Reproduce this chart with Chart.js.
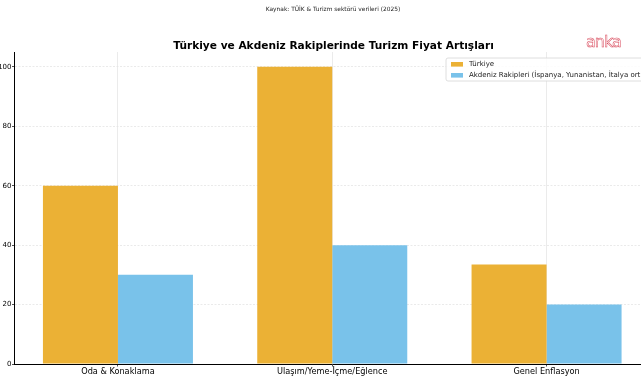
<!DOCTYPE html>
<html lang="tr">
<head>
<meta charset="utf-8">
<script src="https://cdn.jsdelivr.net/npm/chart.js@4"></script>
<style>
    html, body { margin: 0; padding: 0; background: #fff; overflow: hidden; width: 641px; height: 380px; }
    #kutu { position: relative; width: 641px; height: 380px; overflow: hidden; }
    canvas { position: absolute; left: 0; top: 0; }
    #kaynak { position: absolute; top: 6px; left: 0; width: 666px; text-align: center; font: 5.9px "DejaVu Sans"; color: #222; }
    #baslik { position: absolute; top: 39px; left: 0; width: 667px; text-align: center; font: bold 10.6px "DejaVu Sans"; color: #000; }
    #logo { position: absolute; left: 586px; top: 32px; font: 16px "DejaVu Sans"; color: #fff; -webkit-text-stroke: 0.5px #d8485a; letter-spacing: -1px; }
</style>
</head>
<body>
<div id="kutu">
    <canvas id="grafik" width="666" height="380"></canvas>
    <div id="kaynak">Kaynak: TÜİK &amp; Turizm sektörü verileri (2025)</div>
    <div id="baslik">Türkiye ve Akdeniz Rakiplerinde Turizm Fiyat Artışları</div>
    <div id="logo">anka</div>
</div>
<script>
// Veriler
const kategoriler = ["Oda & Konaklama", "Ulaşım/Yeme-İçme/Eğlence", "Genel Enflasyon"];
const turkiye = [60, 100, 33.5];
const akdeniz = [30, 40, 20];
const yTikleri = [0, 20, 40, 60, 80, 100];
const seriAdlari = ["Türkiye", "Akdeniz Rakipleri (İspanya, Yunanistan, İtalya ort.)"];

const turuncu = "#EBB135";
const mavi = "#79C2EA";

// Lejantı grafik alanının içine, sağ üste çizer
const lejantEklentisi = {
    id: "lejant",
    afterDraw(chart) {
        const ctx = chart.ctx;
        const x0 = 446, y0 = 58;
        ctx.save();
        ctx.font = "7px 'DejaVu Sans'";
        const genislik = ctx.measureText(seriAdlari[1]).width + 32;
        ctx.fillStyle = "rgba(255,255,255,0.85)";
        ctx.strokeStyle = "#d6d6d6";
        ctx.lineWidth = 0.8;
        ctx.beginPath();
        ctx.roundRect(x0, y0, genislik, 23, 2);
        ctx.fill();
        ctx.stroke();
        chart.data.datasets.forEach((ds, i) => {
            const y = y0 + 6.3 + i * 11;
            ctx.fillStyle = ds.backgroundColor;
            ctx.fillRect(x0 + 5, y - 2.3, 12, 4.6);
            ctx.fillStyle = "#222";
            ctx.textBaseline = "middle";
            ctx.fillText(ds.label, x0 + 23, y);
        });
        ctx.restore();
    }
};

new Chart(document.getElementById("grafik").getContext("2d"), {
    type: "bar",
    data: {
        datasets: [
            {
                label: seriAdlari[0],
                data: turkiye.map((v, i) => ({ x: i, y: v })),
                backgroundColor: turuncu
            },
            {
                label: seriAdlari[1],
                data: akdeniz.map((v, i) => ({ x: i, y: v })),
                backgroundColor: mavi
            }
        ]
    },
    options: {
        responsive: false,
        animation: false,
        layout: { padding: { left: 0, right: 15.5, top: 52, bottom: 0 } },
        datasets: { bar: { categoryPercentage: 0.7, barPercentage: 1.0 } },
        plugins: {
            legend: { display: false },
            tooltip: { enabled: false },
            title: { display: false }
        },
        scales: {
            x: {
                type: "linear",
                min: -0.485,
                max: 2.485,
                offset: false,
                afterBuildTicks: (s) => { s.ticks = kategoriler.map((k, i) => ({ value: i })); },
                afterFit: (s) => { s.height = 16; },
                ticks: {
                    callback: (v) => kategoriler[Math.round(v)],
                    color: "#000",
                    font: { family: "DejaVu Sans", size: 8.2 },
                    padding: 0,
                    maxRotation: 0,
                    autoSkip: false
                },
                grid: { offset: false, color: "#e6e6e6", lineWidth: 0.8, tickLength: 2.5, tickColor: "#222" },
                border: { color: "#000", width: 1 }
            },
            y: {
                min: 0,
                max: 105,
                afterBuildTicks: (s) => { s.ticks = yTikleri.map(v => ({ value: v })); },
                afterFit: (s) => { s.width = 14; },
                ticks: {
                    color: "#000",
                    font: { family: "DejaVu Sans", size: 7 },
                    padding: 0.5
                },
                grid: {
                    color: (c) => c.tick && c.tick.value === 0 ? "rgba(0,0,0,0)" : "#e4e4e4",
                    lineWidth: 0.8,
                    tickLength: 2,
                    tickColor: "#222"
                },
                border: { color: "#000", width: 1, dash: [2, 1.5] }
            }
        }
    },
    plugins: [lejantEklentisi]
});
</script>
</body>
</html>
